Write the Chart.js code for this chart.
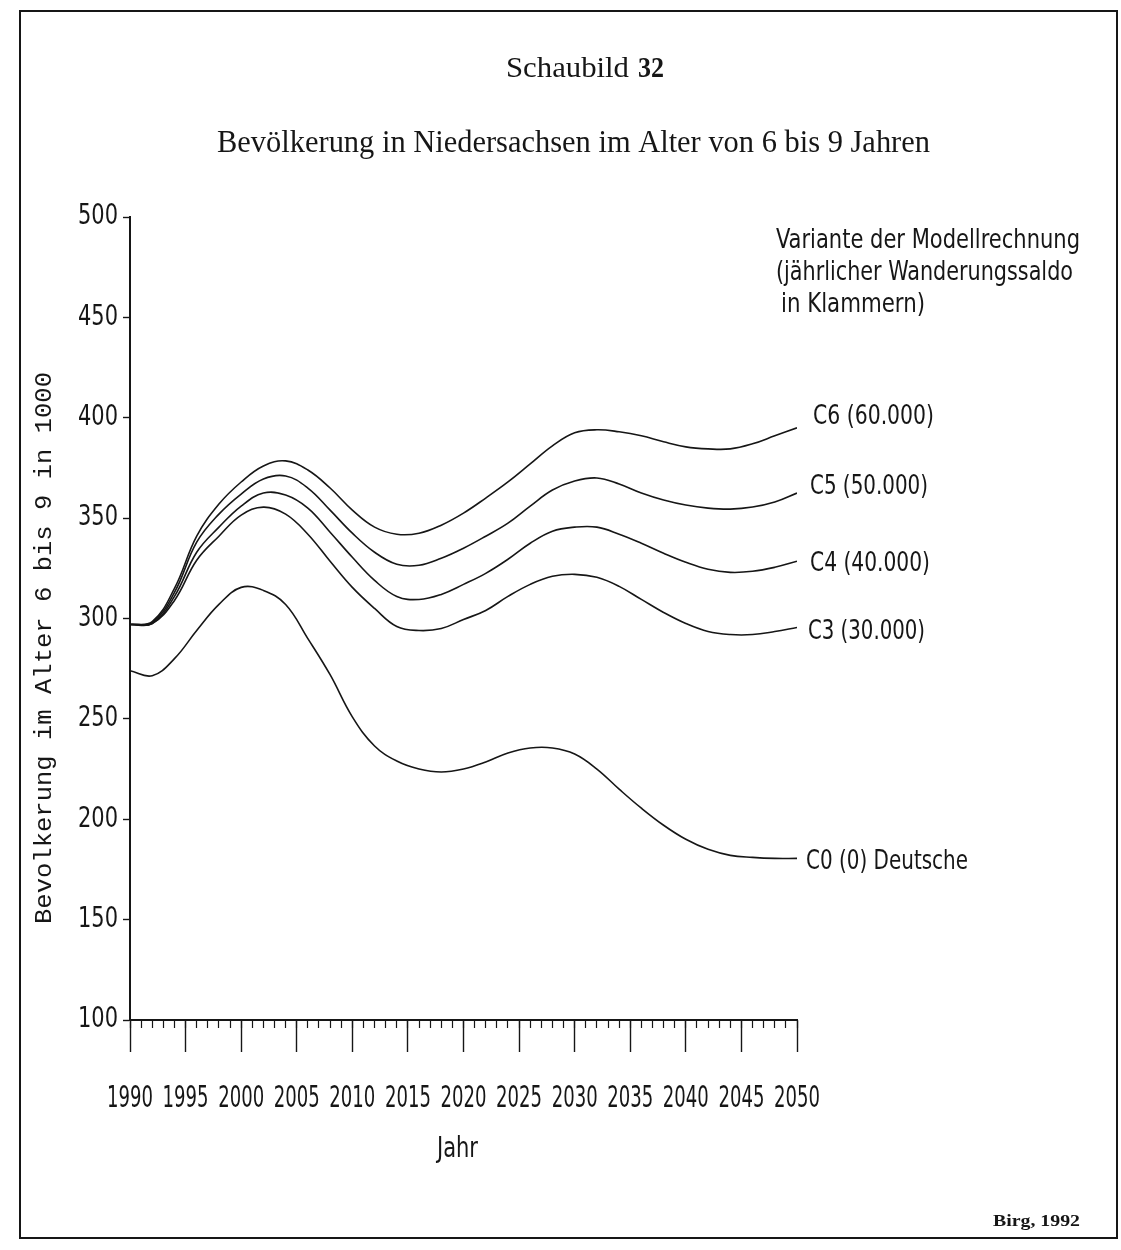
<!DOCTYPE html>
<html lang="de">
<head>
<meta charset="utf-8">
<title>Schaubild 32</title>
<script src="https://cdn.jsdelivr.net/npm/chart.js@4.4.1/dist/chart.umd.min.js"></script>
<style>
  html, body { margin: 0; padding: 0; background: #fff; }
  #chart { display: block; }
</style>
</head>
<body>
<canvas id="chart" width="1121" height="1250"></canvas>
<script>
// Bevölkerung 6-9 Jahre, Niedersachsen, in 1000 - Varianten der Modellrechnung
const years = [1990, 1992, 1994, 1996, 1998, 2000, 2002, 2004, 2006, 2008, 2010,
  2012, 2014, 2016, 2018, 2020, 2022, 2024, 2026, 2028, 2030,
  2032, 2034, 2036, 2038, 2040, 2042, 2044, 2046, 2048, 2050]

const c6 = [297, 298.5, 315, 341, 357, 368, 376, 378.5, 374, 365, 354,
  345.5, 342, 342.5, 346.5, 352.5, 360, 368, 377, 386, 392.5,
  394, 393, 391, 388, 385.5, 384.5, 384.5, 387, 391, 395]
const c5 = [297, 298, 313, 338, 352, 362, 369.5, 371, 365, 354, 342.5,
  333, 327, 326.5, 330, 335, 341, 347.5, 356, 364, 368.5,
  370, 367, 362.5, 359, 356.5, 355, 354.5, 355.5, 358, 362.5]
const c4 = [297, 297.5, 311, 333, 345.5, 356, 362.5, 361.5, 355, 343, 330.5,
  319, 311, 309.5, 312, 317, 322.5, 329.5, 337.5, 343.5, 345.5,
  345.5, 342, 337.5, 332.5, 328, 324.5, 323, 323.5, 325.5, 328.5]
const c3 = [297, 297.5, 309, 329, 341, 351.5, 355.5, 352, 342, 328.5, 315.5,
  305, 296, 294, 295, 299.5, 304, 311, 317, 321, 322,
  320.5, 316, 309.5, 303, 297.5, 293.5, 292, 292, 293.5, 295.5]
const c0 = [274, 271.5, 280, 294, 307, 315.5, 314, 307, 290, 272, 251,
  236.5, 229, 225, 223.5, 225, 228.5, 233, 235.5, 235.5, 232.5,
  225, 215, 205.5, 197, 190, 185, 182, 181, 180.5, 180.5]

const seriesNames = ["C6 (60.000)", "C5 (50.000)", "C4 (40.000)", "C3 (30.000)", "C0 (0) Deutsche"]
const seriesValues = [c6, c5, c4, c3, c0]

const yMin = 100
const yMax = 500
const yStep = 50
const xMin = 1990
const xMax = 2050
const xLabelStep = 5

const ink = "#161616"
const narrow = "'Liberation Sans Narrow', 'DejaVu Sans Condensed', 'Arial Narrow', sans-serif"
const serif = "'Liberation Serif', 'DejaVu Serif', serif"
const mono = "'Liberation Mono', 'DejaVu Sans Mono', monospace"

// text squeezed or stretched to a given width
function fitText(ctx, text, x, y, width, font, align) {
	ctx.save()
	ctx.font = font
	ctx.textBaseline = "middle"
	ctx.textAlign = align || "left"
	const w = ctx.measureText(text).width
	ctx.translate(x, y)
	ctx.scale(width / w, 1)
	ctx.fillText(text, 0, 0)
	ctx.restore()
}

// label placement next to each line end: [dx, dy, width]
const labelOffsets = [[16, -11, 121], [13, -6, 118], [13, 3, 120], [11, 4, 117], [9, 4, 162]]

const decorations = {
	id: "decorations",
	beforeDraw(chart) {
		const ctx = chart.ctx
		ctx.save()
		ctx.fillStyle = "#fff"
		ctx.fillRect(0, 0, chart.width, chart.height)
		ctx.restore()
	},
	afterDraw(chart) {
		const ctx = chart.ctx
		const area = chart.chartArea
		const xScale = chart.scales.x
		const yScale = chart.scales.y
		ctx.save()
		ctx.fillStyle = ink
		ctx.strokeStyle = ink

		// frame
		ctx.lineWidth = 2
		ctx.strokeRect(20, 11, 1097, 1227)

		// headings
		fitText(ctx, "Schaubild", 506, 69, 123, "30px " + serif)
		fitText(ctx, "32", 638, 69, 26, "bold 30px " + serif)
		fitText(ctx, "Bevölkerung in Niedersachsen im Alter von 6 bis 9 Jahren", 217, 144, 713, "31px " + serif)

		// narrow tick labels on both axes
		xScale.ticks.forEach((t) => {
			fitText(ctx, String(t.value), xScale.getPixelForValue(t.value), 1099, 46, "30px " + narrow, "center")
		})
		yScale.ticks.forEach((t) => {
			fitText(ctx, String(t.value), 118, yScale.getPixelForValue(t.value), 40, "28px " + narrow, "right")
		})

		// x axis title
		fitText(ctx, "Jahr", (area.left + area.right) / 2 - 6, 1150, 41, "28px " + narrow, "center")

		// note on the variants
		fitText(ctx, "Variante der Modellrechnung", 776, 241, 304, "27px " + narrow)
		fitText(ctx, "(jährlicher Wanderungssaldo", 776, 273, 297, "27px " + narrow)
		fitText(ctx, "in Klammern)", 781, 305, 144, "27px " + narrow)

		// y axis title, read bottom to top
		ctx.save()
		ctx.translate(45, 648)
		ctx.rotate(-Math.PI / 2)
		fitText(ctx, "Bevolkerung im Alter 6 bis 9 in 1000", 0, 0, 552, "24px " + mono, "center")
		ctx.restore()

		// series names at the line ends
		seriesNames.forEach((name, i) => {
			const vals = seriesValues[i]
			const [dx, dy, w] = labelOffsets[i]
			const py = yScale.getPixelForValue(vals[vals.length - 1])
			fitText(ctx, name, area.right + dx, py + dy, w, "27px " + narrow)
		})

		// source
		fitText(ctx, "Birg, 1992", 993, 1222, 87, "bold 16px " + serif)
		ctx.restore()
	},
}

const datasets = seriesValues.map((vals, i) => ({
	label: seriesNames[i],
	data: years.map((yr, j) => ({ x: yr, y: vals[j] })),
	borderColor: ink,
	borderWidth: 1.6,
	pointRadius: 0,
	fill: false,
	tension: 0.4,
}))

new Chart(document.getElementById("chart"), {
	type: "line",
	data: { datasets },
	options: {
		responsive: false,
		animation: false,
		events: [],
		layout: { padding: { left: 20, right: 324, top: 217, bottom: 80 } },
		plugins: {
			legend: { display: false },
			tooltip: { enabled: false },
		},
		scales: {
			x: {
				type: "linear",
				position: "bottom",
				weight: 1,
				min: xMin,
				max: xMax,
				ticks: { stepSize: xLabelStep, autoSkip: false, display: false },
				grid: { drawOnChartArea: false, tickLength: 32, color: ink, tickWidth: 1.4 },
				border: { display: false },
				afterFit: (scale) => { scale.height = 150 },
			},
			xMinor: {
				type: "linear",
				position: "bottom",
				weight: 0,
				min: xMin,
				max: xMax,
				ticks: { stepSize: 1, display: false },
				grid: { drawOnChartArea: false, tickLength: 8, color: ink, tickWidth: 1.2 },
				border: { display: true, color: ink, width: 2 },
				afterFit: (scale) => { scale.height = 0 },
			},
			y: {
				type: "linear",
				min: yMin,
				max: yMax,
				ticks: { stepSize: yStep, display: false },
				grid: { drawOnChartArea: false, tickLength: 7, color: ink, tickWidth: 1.4 },
				border: { display: true, color: ink, width: 2 },
				afterFit: (scale) => { scale.width = 110 },
			},
		},
	},
	plugins: [decorations],
})
</script>
</body>
</html>
